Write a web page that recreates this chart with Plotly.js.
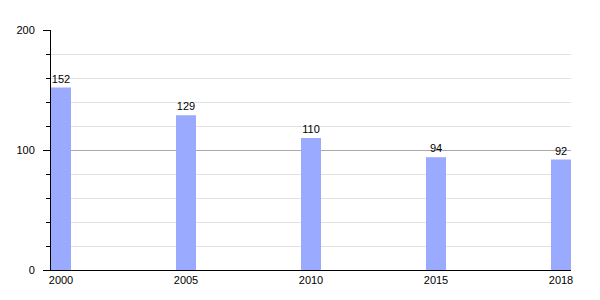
<!DOCTYPE html>
<html>
<head>
<meta charset="utf-8">
<script src="https://cdn.plot.ly/plotly-3.0.1.min.js"></script>
<style>html,body{margin:0;padding:0;background:#fff;}#chart{width:600px;height:300px;}</style>
</head>
<body>
<div id="chart"></div>
<script>
const years = ["2000", "2005", "2010", "2015", "2018"];
const values = [152, 129, 110, 94, 92];

const trace = {
  type: "bar",
  x: years,
  y: values,
  width: 0.16,
  marker: {color: "#99aaff"},
  text: values.map(String),
  textposition: "outside",
  cliponaxis: false,
  textfont: {family: "Liberation Sans, Arial, sans-serif", size: 11, color: "#000"},
  hoverinfo: "none"
};

const layout = {
  width: 600,
  height: 300,
  margin: {l: 51, r: 29, t: 30, b: 30},
  paper_bgcolor: "#fff",
  plot_bgcolor: "#fff",
  showlegend: false,
  font: {family: "Liberation Sans, Arial, sans-serif", size: 11, color: "#000"},
  xaxis: {
    type: "category",
    range: [-0.08, 4.08],
    showline: true,
    linecolor: "#000",
    linewidth: 1,
    showgrid: false,
    ticks: "",
    tickfont: {size: 11, color: "#000"},
    ticklabelstandoff: 0
  },
  yaxis: {
    range: [0, 200],
    dtick: 100,
    tick0: 0,
    showline: true,
    linecolor: "#000",
    linewidth: 1,
    zeroline: false,
    showgrid: true,
    gridcolor: "#aaaaaa",
    gridwidth: 1,
    ticks: "outside",
    ticklen: 7,
    tickcolor: "#000",
    ticklabelstandoff: 6,
    tickfont: {size: 11, color: "#000"},
    minor: {
      dtick: 20,
      tick0: 0,
      showgrid: true,
      gridcolor: "#e2e2e2",
      gridwidth: 1,
      ticks: "outside",
      ticklen: 4,
      tickcolor: "#000"
    }
  }
};

Plotly.newPlot("chart", [trace], layout, {displayModeBar: false, staticPlot: true});
</script>
</body>
</html>
